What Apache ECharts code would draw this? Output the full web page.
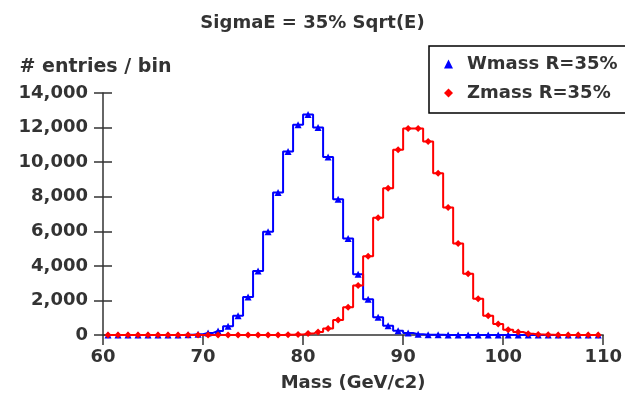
<!DOCTYPE html>
<html>
<head>
<meta charset="utf-8">
<script src="https://cdn.jsdelivr.net/npm/echarts@6/dist/echarts.min.js"></script>
<style>
html,body{margin:0;padding:0;background:#fff;}
#chart{width:625px;height:399px;}
</style>
</head>
<body>
<div id="chart"></div>
<script>
// Bin centres (GeV), 1 GeV bins from 60 to 110
var binCenters = [60.5,61.5,62.5,63.5,64.5,65.5,66.5,67.5,68.5,69.5,
                  70.5,71.5,72.5,73.5,74.5,75.5,76.5,77.5,78.5,79.5,
                  80.5,81.5,82.5,83.5,84.5,85.5,86.5,87.5,88.5,89.5,
                  90.5,91.5,92.5,93.5,94.5,95.5,96.5,97.5,98.5,99.5,
                  100.5,101.5,102.5,103.5,104.5,105.5,106.5,107.5,108.5,109.5];
var wmass = [0,0,0,0,0,0,2,6,15,40,
             120,230,500,1120,2200,3700,5970,8240,10620,12170,
             12750,12010,10300,7850,5580,3520,2070,1030,540,250,
             110,45,20,8,3,1,0,0,0,0,
             0,0,0,0,0,0,0,0,0,0];
var zmass = [0,0,0,0,0,0,0,0,0,0,
             0,0,0,0,0,0,1,4,12,30,
             80,180,380,870,1610,2870,4550,6780,8490,10720,
             11950,11950,11200,9360,7380,5290,3550,2090,1120,640,
             310,170,70,30,12,5,2,1,0,0];
var xTicks = {min:60, max:110, interval:10};
var yTicks = {min:0, max:14000, interval:2000};
var seriesNames = ['Wmass R=35%', 'Zmass R=35%'];

function pairs(vals){ return binCenters.map(function(x,i){ return [x, vals[i]]; }); }

var font = 'DejaVu Sans';
var txt = '#333333';
var chart = echarts.init(document.getElementById('chart'), null, {renderer:'canvas'});
chart.setOption({
  animation:false,
  backgroundColor:'#ffffff',
  title:{
    text:'SigmaE = 35% Sqrt(E)', left:'center', top:9,
    textStyle:{fontFamily:font, fontWeight:'bold', fontSize:18, color:txt}
  },
  legend:{
    orient:'vertical', left:429, top:46,
    borderColor:'#000', borderWidth:1.5, borderRadius:0,
    padding:[9,20,11,15], itemGap:11,
    itemWidth:9, itemHeight:9,
    textStyle:{fontFamily:font, fontWeight:'bold', fontSize:18, color:txt, padding:[0,0,0,9]},
    data:[{name:seriesNames[0], icon:'triangle'},{name:seriesNames[1], icon:'diamond'}]
  },
  grid:{left:103, right:20, top:93, bottom:64, containLabel:false},
  xAxis:{
    type:'value', min:xTicks.min, max:xTicks.max, interval:xTicks.interval,
    name:'Mass (GeV/c2)', nameLocation:'middle', nameGap:39,
    nameTextStyle:{fontFamily:font, fontWeight:'bold', fontSize:18, color:txt},
    axisLine:{lineStyle:{color:'#333', width:1.5}},
    axisTick:{length:10, lineStyle:{color:'#333', width:1.5}},
    axisLabel:{fontFamily:font, fontWeight:'bold', fontSize:18, color:txt, margin:13},
    splitLine:{show:false}
  },
  yAxis:[{
    type:'value', min:yTicks.min, max:yTicks.max, interval:yTicks.interval,
    name:'# entries / bin', nameLocation:'end', nameGap:16,
    nameTextStyle:{fontFamily:font, fontWeight:'bold', fontSize:19, color:txt, align:'center', padding:[0,0,0,-15]},
    axisLine:{show:true, lineStyle:{color:'#333', width:1.5}},
    axisTick:{show:true, length:9, lineStyle:{color:'#333', width:1.5}},
    axisLabel:{fontFamily:font, fontWeight:'bold', fontSize:18, color:txt, margin:15,
      formatter:function(v){ return v.toLocaleString('en-US'); }},
    splitLine:{show:false}
  },{
    type:'value', min:yTicks.min, max:yTicks.max, interval:yTicks.interval, position:'left',
    axisLine:{show:false},
    axisTick:{show:true, inside:true, length:9, lineStyle:{color:'#333', width:1.5}},
    axisLabel:{show:false}, splitLine:{show:false}
  }],
  series:[{
    name:seriesNames[0], type:'line', step:'middle', data:pairs(wmass),
    symbol:'triangle', symbolSize:7, showAllSymbol:true,
    itemStyle:{color:'#0000ff'}, lineStyle:{color:'#0000ff', width:2}
  },{
    name:seriesNames[1], type:'line', step:'middle', data:pairs(zmass),
    symbol:'diamond', symbolSize:7, showAllSymbol:true,
    itemStyle:{color:'#ff0000'}, lineStyle:{color:'#ff0000', width:2}
  }]
});
</script>
</body>
</html>
